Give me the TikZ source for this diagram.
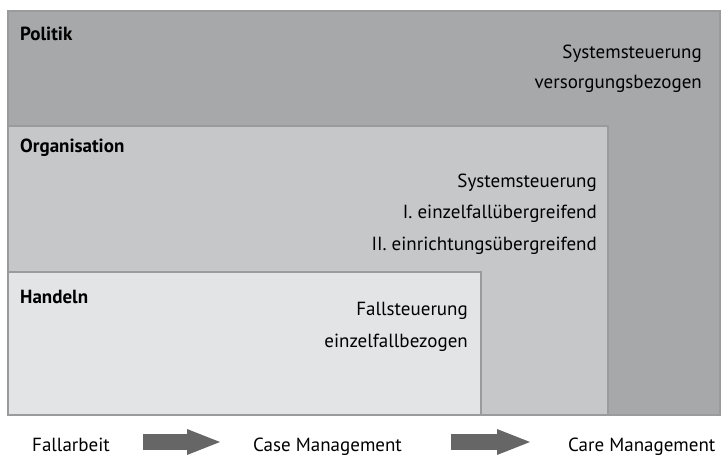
\documentclass[tikz,border=0pt]{standalone}
\usepackage{fontspec}
\setmainfont{PT Sans}
\definecolor{FilledPolitik}{HTML}{A7A8AA}
\definecolor{FilledOrganisation}{HTML}{C6C7C9}
\definecolor{FilledHandeln}{HTML}{E3E4E6}
\definecolor{BoxBorder}{HTML}{9A9B9D}
\definecolor{ArrowGray}{HTML}{666666}
\usetikzlibrary{arrows.meta}
\tikzset{
    level box/.style={draw=BoxBorder, line width=1.2pt},
    level title/.style={anchor=base west, inner sep=0pt,
        font=\fontsize{19}{23}\selectfont\bfseries},
    level text/.style={anchor=base east, inner sep=0pt},
    stage text/.style={anchor=base west, inner sep=0pt},
    block arrow/.style={
        draw=ArrowGray, line width=16pt,
        -{Triangle[width=26pt, length=33pt, line width=0pt]}
    }
}

\begin{document}
\begin{tikzpicture}[x=1pt, y=-1pt, font=\fontsize{19}{23}\selectfont]

\useasboundingbox (0,0) rectangle (721,455);

\coordinate (P1) at (8, 11);
\coordinate (P2) at (720, 415);
\coordinate (O1) at (8, 126);
\coordinate (O2) at (608, 415);
\coordinate (H1) at (8, 272);
\coordinate (H2) at (481, 415);

% Dibujar los tres niveles
\filldraw[level box, fill=FilledPolitik] (P1) rectangle (P2);
\filldraw[level box, fill=FilledOrganisation] (O1) rectangle (O2);
\filldraw[level box, fill=FilledHandeln] (H1) rectangle (H2);

% Nombrar los niveles
\node[level title] (politik) at (20, 40) {Politik};
\node[level title] (organisation) at (20, 152) {Organisation};
\node[level title] (handeln) at (20, 303) {Handeln};

% Textos de cada nivel
\node[level text] (politikA) at (702, 58) {Systemsteuerung};
\node[level text] (politikB) at (702, 88) {versorgungsbezogen};
\node[level text] (orgA) at (597, 187) {Systemsteuerung};
\node[level text] (orgB) at (597, 218) {I. einzelfallübergreifend};
\node[level text] (orgC) at (597, 250) {II. einrichtungsübergreifend};
\node[level text] (handelnA) at (468, 315) {Fallsteuerung};
\node[level text] (handelnB) at (468, 347) {einzelfallbezogen};

% Etapas abajo
\node[stage text] (fall) at (32, 451) {Fallarbeit};
\node[stage text] (case) at (253, 451) {Case Management};
\node[stage text] (care) at (568, 451) {Care Management};

% Flechas entre etapas
\draw[block arrow, shorten <=33pt, shorten >=33pt]
    ([yshift=9pt]fall.base east) -- ([yshift=9pt]case.base west);
\draw[block arrow, shorten <=49pt, shorten >=38pt]
    ([yshift=9pt]case.base east) -- ([yshift=9pt]care.base west);

\end{tikzpicture}
\end{document}
